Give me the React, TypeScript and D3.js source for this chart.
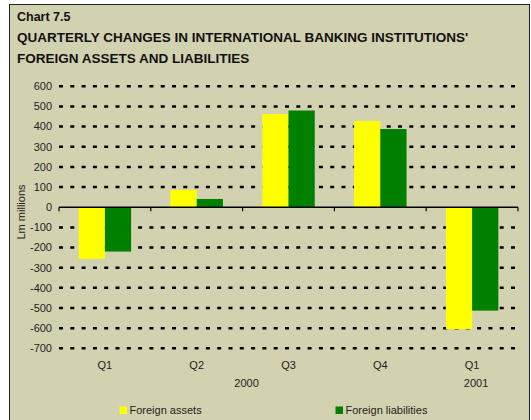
import React from "react";
import * as d3 from "d3";

const categories = ["Q1", "Q2", "Q3", "Q4", "Q1 "];
const quarterLabels = ["Q1", "Q2", "Q3", "Q4", "Q1"];
const foreignAssets = [-256, 86, 462, 428, -605];
const foreignLiabilities = [-220, 41, 480, 388, -513];
const seriesNames = ["Foreign assets", "Foreign liabilities"];
const seriesColors = ["#FFFF00", "#008000"];
const yTicks = [600, 500, 400, 300, 200, 100, 0, -100, -200, -300, -400, -500, -600, -700];
const yearLabels = [
  { label: "2000", from: 0, to: 3 },
  { label: "2001", from: 4, to: 4 },
];

const W = 531;
const H = 420;
const FONT = "'Liberation Sans', Arial, sans-serif";

export default function App() {
  const left = 59;
  const right = 518;
  const x = d3.scaleBand<string>().domain(categories).range([left, right]).paddingInner(0).paddingOuter(0);
  const y = d3.scaleLinear().domain([-700, 600]).range([348.3, 86.3]);
  const band = x.bandwidth();
  const barW = band / 3.5;
  const groupOffset = (band - 2 * barW) / 2;
  const series = [foreignAssets, foreignLiabilities];
  const y0 = y(0);

  return (
    <svg width={W} height={H} style={{ position: "absolute", left: 0, top: 0 }} fontFamily={FONT}>
      <rect x={0} y={0} width={W} height={H} fill="#ffffff" />
      <rect x={9.5} y={4.5} width={520} height={H + 10} fill="#D3D2B0" stroke="#222" strokeWidth={1} />
      <text x={17} y={21} fontSize={12.5} fontWeight="bold" fill="#111">Chart 7.5</text>
      <text x={17} y={42} fontSize={13.5} fontWeight="bold" fill="#111">
        QUARTERLY CHANGES IN INTERNATIONAL BANKING INSTITUTIONS'
      </text>
      <text x={17} y={63} fontSize={13.5} fontWeight="bold" fill="#111">FOREIGN ASSETS AND LIABILITIES</text>

      {yTicks.filter((t) => t !== 0).map((t) => (
        <line key={"g" + t} x1={left} x2={right} y1={y(t)} y2={y(t)} stroke="#000" strokeWidth={2.5} strokeDasharray="4 7.3" />
      ))}
      {yTicks.map((t) => (
        <text key={"t" + t} x={52} y={y(t)} dy="0.35em" fontSize={11} textAnchor="end" fill="#222">{t}</text>
      ))}
      <text transform={`translate(25,${212}) rotate(-90)`} fontSize={11} textAnchor="middle" fill="#222">Lm millions</text>

      {categories.map((c, i) =>
        series.map((s, j) => {
          const v = s[i];
          const bx = (x(c) as number) + groupOffset + j * barW;
          return (
            <rect key={c + j} x={bx} y={Math.min(y(v), y0)} width={barW} height={Math.abs(y(v) - y0)} fill={seriesColors[j]} />
          );
        })
      )}

      <line x1={left} x2={right} y1={y0} y2={y0} stroke="#000" strokeWidth={1.5} />
      {[...categories.map((c) => x(c) as number), right].map((t, i) => (
        <line key={"k" + i} x1={t} x2={t} y1={y0} y2={y0 + 4} stroke="#000" strokeWidth={1.2} />
      ))}

      {categories.map((c, i) => (
        <text key={"x" + i} x={(x(c) as number) + band / 2} y={369} fontSize={11} textAnchor="middle" fill="#222">
          {quarterLabels[i]}
        </text>
      ))}
      {yearLabels.map((yl) => (
        <text key={yl.label} x={((x(categories[yl.from]) as number) + (x(categories[yl.to]) as number) + band) / 2 + 4}
          y={387} fontSize={11} textAnchor="middle" fill="#222">{yl.label}</text>
      ))}

      {seriesNames.map((n, j) => {
        const lx = j === 0 ? 119.5 : 335.5;
        return (
          <g key={n}>
            <rect x={lx} y={406.5} width={7.5} height={7.5} fill={seriesColors[j]} />
            <text x={lx + 10} y={414} fontSize={11} fill="#222">{n}</text>
          </g>
        );
      })}
    </svg>
  );
}
